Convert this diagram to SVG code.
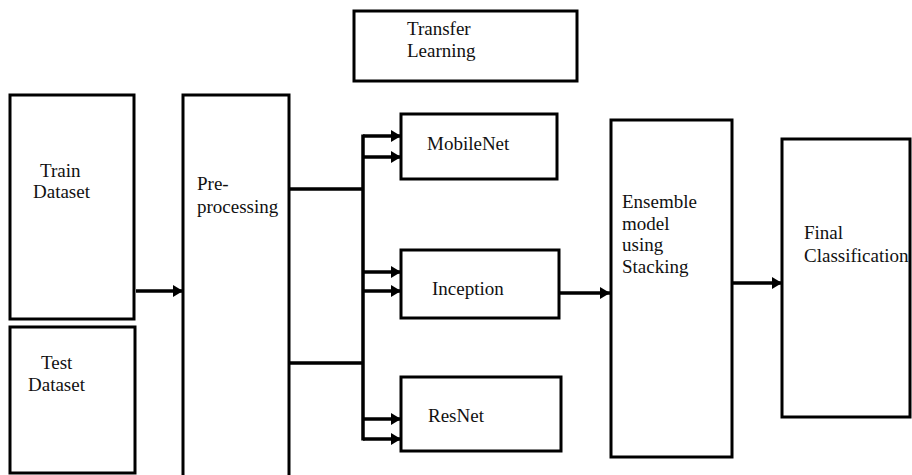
<svg xmlns="http://www.w3.org/2000/svg" width="912" height="475" viewBox="0 0 912 475">
<style>
.box{fill:#fff;stroke:#000;stroke-width:3}
.lbl{font-family:"Liberation Serif","Times New Roman",serif;font-size:19px;fill:#111}
.con{fill:none;stroke:#000;stroke-width:3.5}
</style>
<defs>
<marker id="ah" markerUnits="userSpaceOnUse" markerWidth="12" markerHeight="14" refX="10" refY="7" orient="auto">
<path d="M0,1 L10,7 L0,13 Z" fill="#000"/>
</marker>
</defs>
<rect width="912" height="475" fill="#fff"/>
<g id="transfer-learning">
<rect class="box" x="354" y="11" width="223" height="70"/>
<text class="lbl" x="407" y="35">Transfer</text>
<text class="lbl" x="407" y="57">Learning</text>
</g>
<g id="train-dataset">
<rect class="box" x="10" y="95" width="124" height="224"/>
<text class="lbl" x="40" y="177">Train</text>
<text class="lbl" x="33" y="198">Dataset</text>
</g>
<g id="test-dataset">
<rect class="box" x="10" y="327" width="125" height="146"/>
<text class="lbl" x="41" y="369">Test</text>
<text class="lbl" x="28" y="391">Dataset</text>
</g>
<g id="pre-processing">
<rect class="box" x="183" y="95" width="106" height="390"/>
<text class="lbl" x="197" y="190">Pre-</text>
<text class="lbl" x="197" y="213">processing</text>
</g>
<g id="mobilenet">
<rect class="box" x="401" y="114" width="156" height="65"/>
<text class="lbl" x="427" y="150">MobileNet</text>
</g>
<g id="inception">
<rect class="box" x="401" y="250" width="158" height="68"/>
<text class="lbl" x="432" y="295">Inception</text>
</g>
<g id="resnet">
<rect class="box" x="401" y="377" width="160" height="74"/>
<text class="lbl" x="428" y="422">ResNet</text>
</g>
<g id="ensemble">
<rect class="box" x="611" y="120" width="121" height="337"/>
<text class="lbl" x="622" y="208">Ensemble</text>
<text class="lbl" x="622" y="230">model</text>
<text class="lbl" x="622" y="251">using</text>
<text class="lbl" x="622" y="273">Stacking</text>
</g>
<g id="final-classification">
<rect class="box" x="782" y="139" width="128" height="278"/>
<text class="lbl" x="804" y="239">Final</text>
<text class="lbl" x="804" y="262">Classification</text>
</g>
<g id="connectors">
<line class="con" x1="136" y1="291" x2="183" y2="291" marker-end="url(#ah)"/>
<path class="con" d="M289,189 H363 M289,363 H363 M363,134.5 V440.5"/>
<line class="con" x1="363" y1="136" x2="401" y2="136" marker-end="url(#ah)"/>
<line class="con" x1="363" y1="157" x2="401" y2="157" marker-end="url(#ah)"/>
<line class="con" x1="363" y1="272" x2="401" y2="272" marker-end="url(#ah)"/>
<line class="con" x1="363" y1="291" x2="401" y2="291" marker-end="url(#ah)"/>
<line class="con" x1="363" y1="419" x2="401" y2="419" marker-end="url(#ah)"/>
<line class="con" x1="363" y1="439" x2="401" y2="439" marker-end="url(#ah)"/>
<line class="con" x1="559" y1="293" x2="610" y2="293" marker-end="url(#ah)"/>
<line class="con" x1="732" y1="283" x2="782" y2="283" marker-end="url(#ah)"/>
</g>
</svg>
